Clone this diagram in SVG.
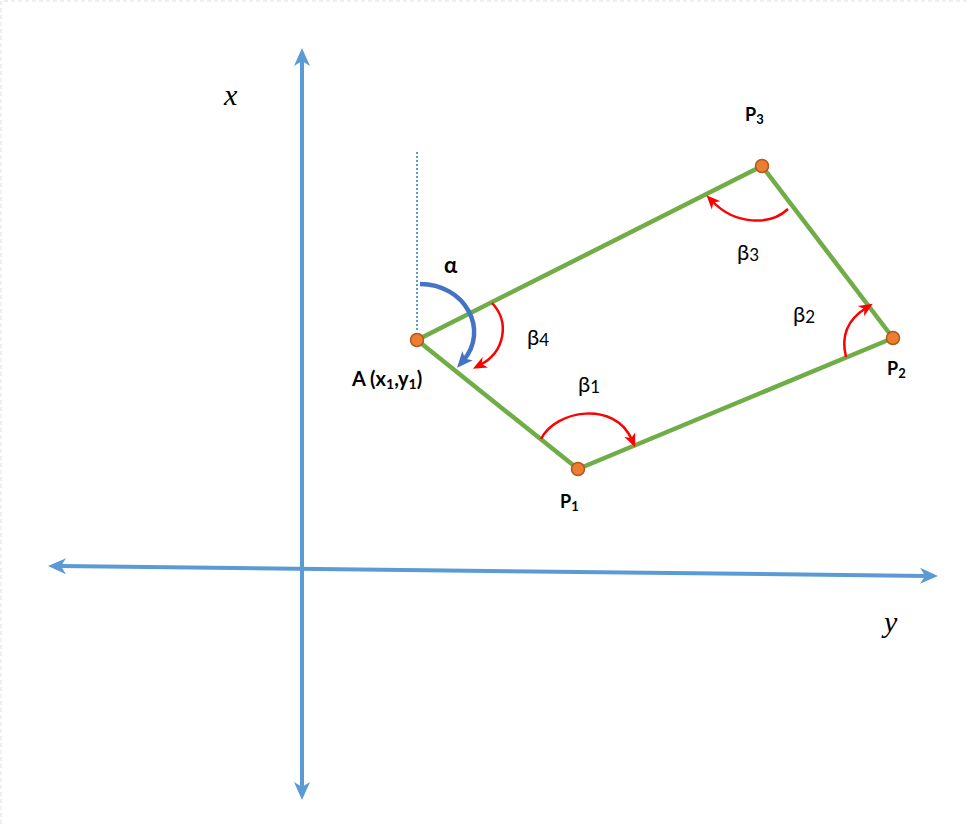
<svg xmlns="http://www.w3.org/2000/svg" width="970" height="824" viewBox="0 0 970 824">
<style>
.axis{stroke:#5B9BD5;stroke-width:4;fill:none}
.edge{stroke:#70AD47;stroke-width:4.5;fill:none;stroke-linecap:round}
.pt{fill:#ED7D31;stroke:#AE5A21;stroke-width:1.5}
.ang{stroke:#FF0000;stroke-width:2.5;fill:none}
.alpha{stroke:#4472C4;stroke-width:4.5;fill:none}
.lbl{font-family:Lato,"Open Sans","Noto Sans",sans-serif;font-weight:bold;fill:#000}
.gr{font-family:Lato,"Noto Sans","DejaVu Sans",sans-serif;font-size:22px;fill:#000}
.ax{font-family:"Liberation Serif",serif;font-style:italic;font-size:30px;fill:#000}
</style>
<defs>
<marker id="axArrow" markerUnits="userSpaceOnUse" markerWidth="20" markerHeight="18" refX="6" refY="8" orient="auto-start-reverse" viewBox="0 0 20 16">
<path d="M0,0 L18,8 L0,16 L5,8 z" fill="#5B9BD5"/>
</marker>
<marker id="redArrow" markerUnits="userSpaceOnUse" markerWidth="16" markerHeight="14" refX="6" refY="6" orient="auto" viewBox="0 0 16 12">
<path d="M0,0 L14,6 L0,12 L4,6 z" fill="#FF0000"/>
</marker>
<marker id="blueArrow" markerUnits="userSpaceOnUse" markerWidth="18" markerHeight="16" refX="7" refY="7" orient="auto" viewBox="0 0 18 14">
<path d="M0,0 L16,7 L0,14 L4,7 z" fill="#4472C4"/>
</marker>
</defs>
<rect x="0" y="0" width="970" height="824" fill="#FFFFFF"/>
<path d="M1,824 V1 H970" fill="none" stroke="#EEEEEE" stroke-width="2" stroke-dasharray="4,3"/>
<g id="connectors">
<line id="x-axis" class="axis" x1="302" y1="60" x2="302" y2="788" marker-start="url(#axArrow)" marker-end="url(#axArrow)"/>
<line id="y-axis" class="axis" x1="60" y1="566.1" x2="926" y2="575.9" marker-start="url(#axArrow)" marker-end="url(#axArrow)"/>
<line id="ref-line" x1="417" y1="152" x2="417" y2="332" stroke="#5B9BD5" stroke-width="2" stroke-dasharray="2,2"/>
<line class="edge" x1="417" y1="340" x2="578" y2="469"/>
<line class="edge" x1="578" y1="469" x2="893" y2="338"/>
<line class="edge" x1="893" y1="338" x2="762" y2="166"/>
<line class="edge" x1="762" y1="166" x2="417" y2="340"/>
<path id="arc-alpha" class="alpha" d="M420,284 C465,284 490,330 463,361" marker-end="url(#blueArrow)"/>
<path id="arc-b4" class="ang" d="M492,303 C510,322 505,352 480,365" marker-end="url(#redArrow)"/>
<path id="arc-b1" class="ang" d="M541,439 C555,410 615,400 632,440" marker-end="url(#redArrow)"/>
<path id="arc-b2" class="ang" d="M846,357 C840,333 850,318 866,308" marker-end="url(#redArrow)"/>
<path id="arc-b3" class="ang" d="M788,209 C770,226 735,225 712,201" marker-end="url(#redArrow)"/>
</g>
<g id="node-A">
<circle class="pt" cx="417" cy="340" r="6.5"/>
<text class="lbl" x="352" y="386" font-size="20">A (x<tspan font-size="14" dy="3">1</tspan><tspan dy="-3">,y</tspan><tspan font-size="14" dy="3">1</tspan><tspan dy="-3">)</tspan></text>
</g>
<g id="node-P1">
<circle class="pt" cx="578" cy="469" r="6.5"/>
<text class="lbl" x="560" y="508" font-size="18">P<tspan font-size="13" dy="3">1</tspan></text>
</g>
<g id="node-P2">
<circle class="pt" cx="893" cy="338" r="6.5"/>
<text class="lbl" x="887" y="375" font-size="18">P<tspan font-size="13" dy="3">2</tspan></text>
</g>
<g id="node-P3">
<circle class="pt" cx="762" cy="166" r="6.5"/>
<text class="lbl" x="745" y="121" font-size="18">P<tspan font-size="13" dy="3">3</tspan></text>
</g>
<g id="labels">
<text class="gr" x="444" y="273" font-weight="bold">α</text>
<text class="gr" x="527" y="345">β<tspan font-size="17" dy="1">4</tspan></text>
<text class="gr" x="578" y="392">β<tspan font-size="17" dy="1">1</tspan></text>
<text class="gr" x="793" y="322">β<tspan font-size="17" dy="1">2</tspan></text>
<text class="gr" x="737" y="260">β<tspan font-size="17" dy="1">3</tspan></text>
<text class="ax" x="224" y="105">x</text>
<text class="ax" x="884" y="632">y</text>
</g>
</svg>
